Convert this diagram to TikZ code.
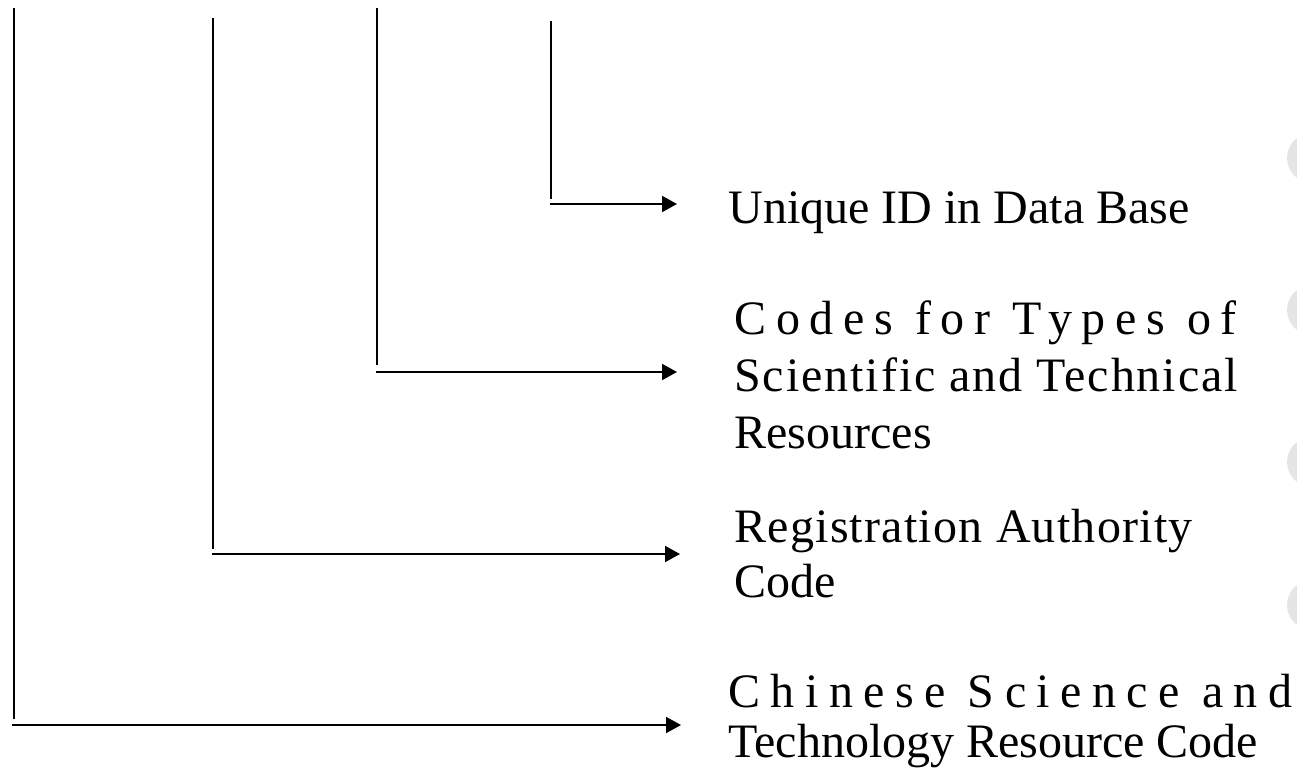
\documentclass[tikz,border=0pt]{standalone}
\usepackage{fontspec}
\setmainfont{Liberation Serif}
\usetikzlibrary{arrows.meta}

\begin{document}
\begin{tikzpicture}[x=1pt,y=-1pt,thick,
    code label/.style={anchor=base west,inner sep=0,align=left,font=\fontsize{48}{57}\selectfont},
    stem/.style={line width=2pt},
    pointer/.style={line width=2pt,-{Triangle[length=15pt,width=16pt]}},
    tab mark/.style={circle,fill=black!10,minimum size=50pt,inner sep=0}]
                \useasboundingbox (0,0) rectangle (1297,774);
                \clip (0,0) rectangle (1297,774);

                \node[tab mark] at (1312,158) (t1) {};
                \node[tab mark] at (1312,310) (t2) {};
                \node[tab mark] at (1312,462) (t3) {};
                \node[tab mark] at (1312,605) (t4) {};

                % base anchor sits on the last line
                \node[code label] at (728,223) (uid) {Unique ID in Data Base};
                \node[code label] at (734,448) (types) {{\addfontfeature{LetterSpace=20.3}Codes for Types of}\\{\addfontfeature{LetterSpace=4}Scientific and Technical}\\Resources};
                \node[code label,font=\fontsize{48}{55}\selectfont] at (734,597) (reg) {{\addfontfeature{LetterSpace=2.6}Registration Authority}\\Code};
                \node[code label,font=\fontsize{48}{50}\selectfont] at (728,757) (cstr) {{\addfontfeature{LetterSpace=21.7}Chinese Science and}\\Technology Resource Code};

                \coordinate (a top) at (14,8);    \coordinate (a end) at (14,719);
                \coordinate (a start) at (12,725); \coordinate (a tip) at (681,725);
                \coordinate (b top) at (213,18);  \coordinate (b end) at (213,549);
                \coordinate (b start) at (212,554); \coordinate (b tip) at (680,554);
                \coordinate (c top) at (377,8);   \coordinate (c end) at (377,365);
                \coordinate (c start) at (376,372); \coordinate (c tip) at (677,372);
                \coordinate (d top) at (551,21);  \coordinate (d end) at (551,199);
                \coordinate (d start) at (550,204); \coordinate (d tip) at (677,204);

                \path
                    (a top) edge[stem] (a end)
                    (a start) edge[pointer] (a tip)
                    (b top) edge[stem] (b end)
                    (b start) edge[pointer] (b tip)
                    (c top) edge[stem] (c end)
                    (c start) edge[pointer] (c tip)
                    (d top) edge[stem] (d end)
                    (d start) edge[pointer] (d tip)
                    ;
            \end{tikzpicture}
\end{document}
